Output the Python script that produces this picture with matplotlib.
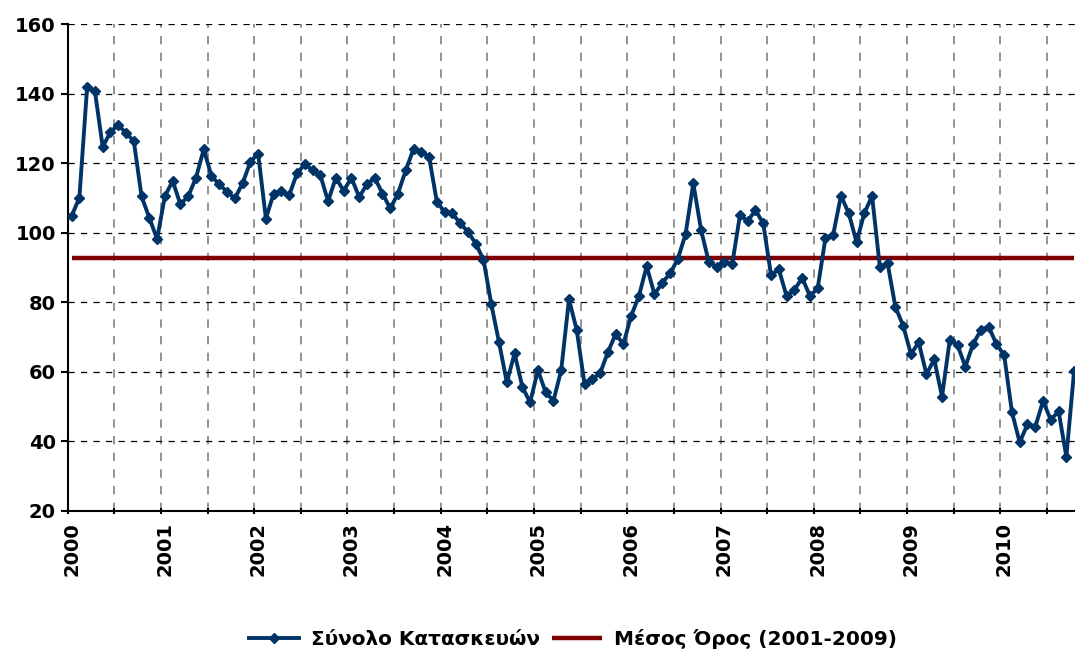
import matplotlib
matplotlib.use("Agg")
from matplotlib import pyplot as plt

# monthly index, Jan 2000 .. Oct 2010
total = [104.8, 110.1, 142.0, 140.7, 124.7, 129.0, 131.0, 128.7, 126.4, 110.5, 104.3, 98.2,
         110.5, 114.9, 108.2, 110.5, 115.8, 124.0, 116.3, 113.9, 111.8, 109.9, 114.2, 120.4,
         122.8, 104.1, 111.3, 112.1, 110.8, 117.1, 119.7, 118.0, 116.6, 109.1, 115.8, 112.1,
         115.8, 110.3, 113.9, 115.8, 111.3, 107.0, 111.3, 118.0, 124.1, 123.3, 121.8, 108.9,
         106.0, 105.6, 102.7, 100.3, 96.9, 92.3, 79.5, 68.5, 57.0, 65.3, 55.7, 51.2,
         60.5, 54.1, 51.7, 60.5, 80.9, 72.0, 56.5, 57.9, 59.6, 65.6, 70.9, 68.0,
         76.1, 81.8, 90.4, 82.3, 85.6, 88.3, 92.4, 99.6, 114.2, 100.8, 91.5, 90.2,
         91.7, 90.9, 105.1, 103.4, 106.5, 102.7, 87.8, 89.5, 81.8, 83.5, 87.1, 81.8,
         84.0, 98.5, 99.5, 110.7, 105.6, 97.3, 105.6, 110.6, 90.2, 91.2, 78.7, 73.3,
         65.1, 68.5, 59.3, 63.6, 52.9, 69.2, 67.7, 61.5, 68.0, 72.0, 73.0, 68.0,
         64.8, 48.4, 39.7, 45.0, 44.2, 51.6, 46.2, 48.7, 35.6, 60.3]
mean_value = 92.7
years = ["2000", "2001", "2002", "2003", "2004", "2005", "2006", "2007", "2008", "2009", "2010"]
y_ticks = [20, 40, 60, 80, 100, 120, 140, 160]

months = list(range(len(total)))

fig = plt.figure(figsize=(10.75, 6.53), dpi=100)
ax = fig.add_axes([0.063, 0.2175, 0.9398, 0.7455])

ax.plot(months, [mean_value] * len(months), color="#7f0000", lw=3.2,
        solid_capstyle="butt", label="Μέσος Όρος (2001-2009)", zorder=3)
ax.plot(months, total, color="#003366", lw=2.8, marker="D", markersize=5.5,
        label="Σύνολο Κατασκευών", zorder=4)

ax.set_xlim(-0.5, len(total) - 0.5)
ax.set_ylim(20, 160)
ax.set_yticks(y_ticks)
ax.set_yticklabels([str(v) for v in y_ticks], fontsize=14, fontweight="bold")

# ticks and gridlines at half-year boundaries, labels on each January
ax.set_xticks([k - 0.5 for k in range(0, len(total) + 1, 6)])
ax.set_xticklabels([])
ax.set_xticks(list(range(0, len(total), 12)), minor=True)
ax.set_xticklabels(years, minor=True, rotation=90, fontsize=14, fontweight="bold")
ax.tick_params(axis="x", which="minor", length=0, pad=8)
ax.tick_params(axis="x", which="major", length=5, width=1.5, direction="inout")
ax.tick_params(axis="y", length=5, width=1.5, direction="out")

ax.grid(axis="x", which="major", color="#808080", linestyle=(0, (5, 5)), lw=1.2)
ax.grid(axis="y", color="black", linestyle=(0, (5, 5)), lw=0.9)

for s in ["top", "right"]:
    ax.spines[s].set_visible(False)
ax.spines["left"].set_linewidth(1.5)
ax.spines["bottom"].set_linewidth(1.5)

handles, labels = ax.get_legend_handles_labels()
fig.legend(handles[::-1], labels[::-1], loc="lower center", bbox_to_anchor=(0.533, -0.022),
           ncol=2, frameon=False, prop={"size": 14.4, "weight": "bold"},
           handlelength=2.5, handletextpad=0.6, columnspacing=0.6)

fig.savefig("out.png", dpi=100)
